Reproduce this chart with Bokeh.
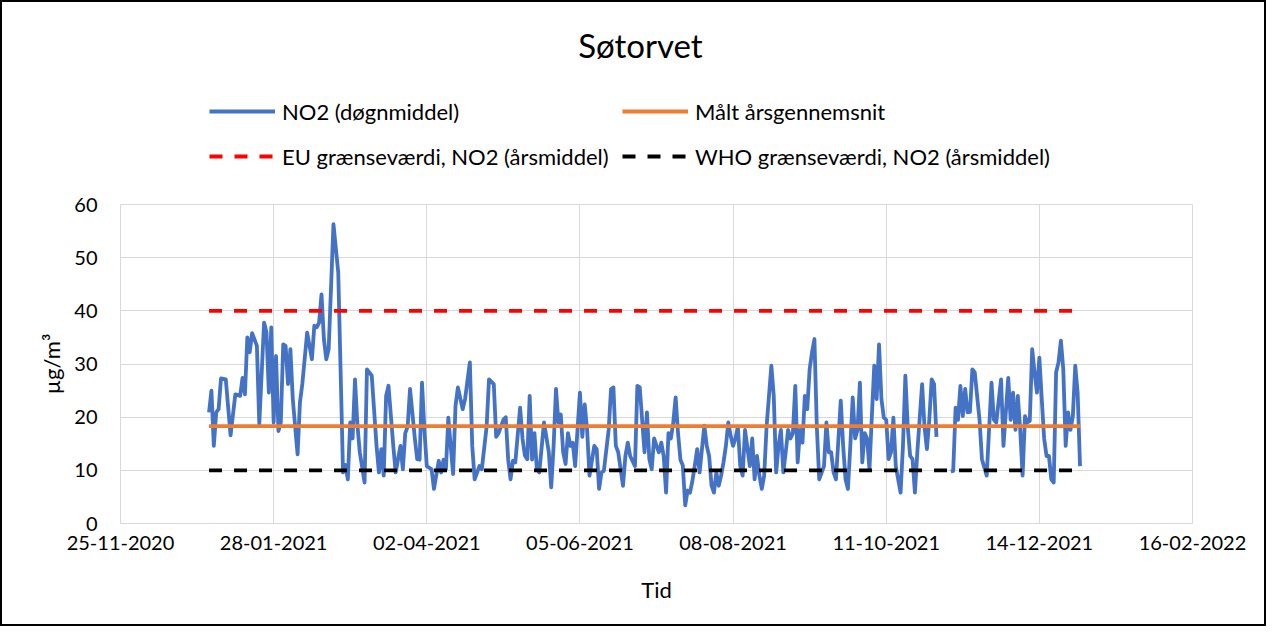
import numpy as np
import pandas as pd
from bokeh.plotting import figure
from bokeh.layouts import column
from bokeh.models import (Range1d, FixedTicker, DatetimeTickFormatter, Legend, LegendItem, Label)
from bokeh.embed import file_html
from bokeh.resources import INLINE

# ---------------- data ----------------
chart_title = "Søtorvet"
series_name = "NO2 (døgnmiddel)"
mean_name = "Målt årsgennemsnit"
eu_name = "EU grænseværdi, NO2 (årsmiddel)"
who_name = "WHO grænseværdi, NO2 (årsmiddel)"
x_title = "Tid"
y_title = "µg/m³"

start_date = "2021-01-01"
end_date = "2021-12-31"

day_of_year = [
    1, 2, 3, 4, 5, 6, 8, 10, 12, 14, 15, 16, 17, 18, 19, 21, 22, 24, 25, 26,
    27, 28, 29, 30, 31, 32, 33, 34, 35, 36, 38, 39, 40, 42, 44, 45, 46, 47, 48, 49,
    50, 51, 53, 55, 57, 58, 59, 60, 61, 62, 63, 64, 66, 67, 69, 71, 72, 73, 74, 75,
    76, 78, 79, 80, 81, 82, 83, 84, 85, 87, 88, 89, 90, 91, 92, 94, 95, 97, 98, 99,
    100, 101, 103, 104, 105, 107, 108, 110, 111, 112, 114, 115, 117, 118, 120, 121, 122, 124, 125, 126,
    127, 128, 129, 131, 132, 133, 134, 135, 136, 137, 138, 139, 141, 143, 144, 145, 146, 147, 148, 149,
    150, 151, 152, 153, 154, 156, 157, 158, 159, 160, 162, 163, 164, 165, 166, 168, 169, 170, 171, 172,
    174, 175, 176, 177, 179, 180, 181, 183, 184, 185, 186, 187, 188, 189, 190, 191, 192, 193, 194, 195,
    196, 197, 198, 199, 200, 201, 202, 203, 204, 205, 206, 207, 208, 209, 210, 211, 212, 213, 214, 215,
    216, 217, 218, 219, 220, 221, 222, 223, 224, 225, 227, 228, 229, 230, 231, 232, 233, 234, 236, 237,
    238, 239, 240, 241, 242, 243, 244, 245, 246, 247, 248, 249, 250, 251, 252, 253, 254, 255, 256, 258,
    259, 260, 261, 262, 263, 265, 266, 267, 268, 269, 270, 271, 272, 273, 274, 275, 276, 277, 278, 279,
    280, 281, 282, 283, 284, 285, 286, 287, 288, 289, 290, 291, 292, 293, 294, 295, 296, 297, 299, 300,
    301, 302, 303, 304, 305, 308, 311, 312, 313, 314, 315, 316, 317, 318, 319, 320, 321, 323, 324, 326,
    328, 329, 330, 332, 333, 335, 336, 337, 338, 339, 340, 341, 342, 343, 344, 345, 346, 347, 348, 349,
    350, 351, 352, 353, 354, 355, 356, 357, 358, 359, 360, 361, 362, 363, 364, 365,
]

nan = float("nan")
no2_daily = [
    20.9, 25.0, 14.6, 20.9, 21.5, 27.3, 27.1, 16.6, 24.3, 24.0, 27.4, 24.3, 35.0, 32.2, 35.8, 33.4, 18.7, 37.8, 36.0, 24.6,
    36.9, 19.0, 31.5, 17.4, 19.0, 33.7, 33.4, 26.2, 32.8, 23.4, 13.0, 22.8, 26.3, 35.9, 30.9, 37.2, 36.9, 37.8, 43.1, 34.7,
    30.9, 32.8, 56.3, 47.2, 9.6, 11.0, 8.3, 19.0, 16.0, 27.1, 18.6, 13.4, 7.7, 29.0, 27.8, 14.6, 9.6, 14.0, 9.0, 24.0,
    25.9, 14.6, 9.6, 12.1, 14.6, 10.2, 17.0, 18.2, 25.3, 16.0, 12.1, 12.0, 26.5, 17.6, 10.8, 10.2, 6.5, 11.8, 9.6, 12.0,
    10.2, 19.9, 9.3, 22.1, 25.6, 21.5, 23.4, 30.3, 14.6, 8.3, 10.8, 10.2, 18.2, 27.1, 26.2, 16.3, 17.0, 19.5, 20.0, 12.1,
    8.3, 11.8, 11.5, 21.8, 16.0, 12.8, 12.1, 24.0, 12.0, 17.0, 10.2, 9.6, 19.0, 13.4, 6.8, 14.6, 25.3, 19.0, 20.5, 13.4,
    11.2, 17.0, 14.6, 15.2, 10.8, 24.6, 16.3, 22.4, 17.6, 9.0, 14.6, 14.0, 6.5, 9.6, 9.9, 17.6, 25.3, 25.6, 14.6, 13.4,
    7.1, 12.7, 15.2, 12.7, 10.8, 25.9, 25.6, 13.4, 20.9, 12.1, 10.2, 16.0, 14.6, 13.4, 15.2, 12.7, 5.8, 17.0, 16.0, 19.0,
    23.7, 17.0, 12.0, 10.9, 3.4, 6.2, 5.8, 8.0, 10.9, 14.0, 9.6, 14.0, 18.4, 14.6, 12.7, 7.1, 5.8, 9.6, 7.1, 9.0,
    11.5, 14.6, 19.0, 16.5, 14.6, 16.0, 18.2, 10.8, 9.0, 17.6, 10.8, 16.0, 8.3, 12.7, 9.0, 6.5, 9.0, 18.2, 29.7, 24.0,
    9.6, 14.6, 17.6, 9.6, 13.4, 17.6, 16.0, 17.0, 25.9, 11.5, 17.6, 15.2, 24.0, 21.5, 29.0, 32.2, 34.7, 18.2, 8.3, 10.8,
    19.0, 13.4, 13.4, 9.6, 8.3, 23.1, 14.6, 8.3, 6.5, 14.6, 23.7, 16.0, 17.6, 26.5, 11.5, 17.0, 16.0, 10.2, 20.2, 29.7,
    23.4, 33.7, 23.4, 19.9, 19.5, 12.1, 13.4, 19.9, 10.8, 8.3, 5.8, 14.6, 27.8, 18.2, 12.7, 12.1, 5.8, 13.4, 26.2, 18.2,
    14.0, 19.5, 27.1, 26.2, 16.3, nan, 9.8, 9.9, 21.8, 19.5, 25.9, 20.2, 25.3, 20.9, 21.0, 29.0, 28.4, 19.5, 12.1, 9.0,
    26.5, 19.5, 19.0, 27.1, 14.6, 27.4, 19.5, 24.6, 17.6, 24.0, 17.6, 9.0, 20.2, 19.0, 19.3, 32.8, 28.4, 24.6, 31.2, 23.4,
    16.0, 12.7, 12.7, 8.3, 7.7, 28.4, 30.3, 34.4, 29.0, 14.6, 20.9, 17.6, 20.2, 29.7, 24.6, 10.8,
]

annual_mean = 18.3
eu_limit = 40
who_limit = 10

x_tick_labels = ["25-11-2020", "28-01-2021", "02-04-2021", "05-06-2021",
                 "08-08-2021", "11-10-2021", "14-12-2021", "16-02-2022"]
y_ticks = [0, 10, 20, 30, 40, 50, 60]

# ---------------- styles ----------------
FONT = "Lato"
LW = 3.8
C_NO2, C_MEAN, C_EU, C_WHO = "#4472C4", "#ED7D31", "#FF0000", "#000000"
DASH = "13 12"
W = 1262
HEAD_H = 188
MAIN_H = 622 - HEAD_H

# ---------------- derived ----------------
dates = pd.Timestamp(start_date) + pd.to_timedelta(np.array(day_of_year) - 1, unit="D")
tick_dates = pd.to_datetime(x_tick_labels, format="%d-%m-%Y")
tick_ms = [float(t.value // 10**6) for t in tick_dates]
span_dates = [pd.Timestamp(start_date), pd.Timestamp(end_date)]

# ---------------- header figure: title + legend ----------------
head = figure(width=W, height=HEAD_H, output_backend="svg", toolbar_location=None,
              x_axis_location=None, y_axis_location=None,
              x_range=Range1d(0, 1), y_range=Range1d(0, 1),
              min_border=0, min_border_left=0, min_border_right=0,
              min_border_top=0, min_border_bottom=0)
head.outline_line_color = None
head.grid.visible = False
head.background_fill_color = "white"
head.border_fill_color = "white"

# legend proxies (kept outside the visible range of the header)
proxy_x, proxy_y = [5, 6], [5, 5]
h_no2 = head.line(proxy_x, proxy_y, line_color=C_NO2, line_width=LW)
h_mean = head.line(proxy_x, proxy_y, line_color=C_MEAN, line_width=LW)
h_eu = head.line(proxy_x, proxy_y, line_color=C_EU, line_width=LW, line_dash=DASH)
h_who = head.line(proxy_x, proxy_y, line_color=C_WHO, line_width=LW, line_dash=DASH)

def make_legend(items, loc):
    return Legend(items=items, location=loc, orientation="vertical",
                  border_line_color=None, background_fill_alpha=0,
                  padding=0, margin=0, spacing=5,
                  glyph_width=66, glyph_height=40, label_height=40, label_standoff=7,
                  label_text_font=FONT, label_text_font_size="22px",
                  label_text_color="#000000", label_text_baseline="middle")

head.add_layout(make_legend([LegendItem(label=series_name, renderers=[h_no2]),
                             LegendItem(label=eu_name, renderers=[h_eu])], (89, 14)))
head.add_layout(make_legend([LegendItem(label=mean_name, renderers=[h_mean]),
                             LegendItem(label=who_name, renderers=[h_who])], (502, 14)))
head.add_layout(Label(x=520, y=146, x_units="screen", y_units="screen", text=chart_title,
                      text_align="center", text_baseline="middle",
                      text_font=FONT, text_font_size="33px", text_color="#000000"))

# ---------------- main chart ----------------
p = figure(width=W, height=MAIN_H, x_axis_type="datetime",
           output_backend="svg", toolbar_location=None,
           x_range=Range1d(tick_dates[0], tick_dates[-1]),
           y_range=Range1d(0, 60),
           min_border_left=118, min_border_right=72,
           min_border_top=14, min_border_bottom=101)
p.background_fill_color = "white"
p.border_fill_color = "white"
p.outline_line_color = "#d9d9d9"

p.line(dates, no2_daily, line_color=C_NO2, line_width=LW, line_join="round")
p.line(span_dates, [annual_mean, annual_mean], line_color=C_MEAN, line_width=LW)
p.line(span_dates, [eu_limit, eu_limit], line_color=C_EU, line_width=LW, line_dash=DASH)
p.line(span_dates, [who_limit, who_limit], line_color=C_WHO, line_width=LW, line_dash=DASH)

p.xaxis.ticker = FixedTicker(ticks=tick_ms)
fmt = "%d-%m-%Y"
p.xaxis.formatter = DatetimeTickFormatter(milliseconds=fmt, seconds=fmt, minsec=fmt, minutes=fmt,
                                          hourmin=fmt, hours=fmt, days=fmt, months=fmt, years=fmt)
p.yaxis.ticker = FixedTicker(ticks=y_ticks)
for ax in (p.xaxis[0], p.yaxis[0]):
    ax.axis_line_color = "#d9d9d9"
    ax.major_tick_line_color = None
    ax.minor_tick_line_color = None
    ax.major_tick_out = 0
    ax.major_tick_in = 0
    ax.major_label_text_font = FONT
    ax.major_label_text_font_size = "20px"
    ax.major_label_text_color = "#000000"
    ax.axis_label_text_font = FONT
    ax.axis_label_text_font_size = "22px"
    ax.axis_label_text_font_style = "normal"
    ax.axis_label_text_color = "#000000"
p.xaxis.axis_label = x_title
p.yaxis.axis_label = y_title
p.xaxis.major_label_standoff = 12
p.xaxis.axis_label_standoff = 23
p.yaxis.major_label_standoff = 23
p.yaxis.axis_label_standoff = 6

p.xgrid.ticker = FixedTicker(ticks=tick_ms)
p.ygrid.ticker = FixedTicker(ticks=y_ticks)
p.grid.grid_line_color = "#d9d9d9"
p.grid.grid_line_width = 1

layout = column(head, p, spacing=0, styles={"border": "2px solid black"})

open("out.html", "w").write(file_html(layout, INLINE))
